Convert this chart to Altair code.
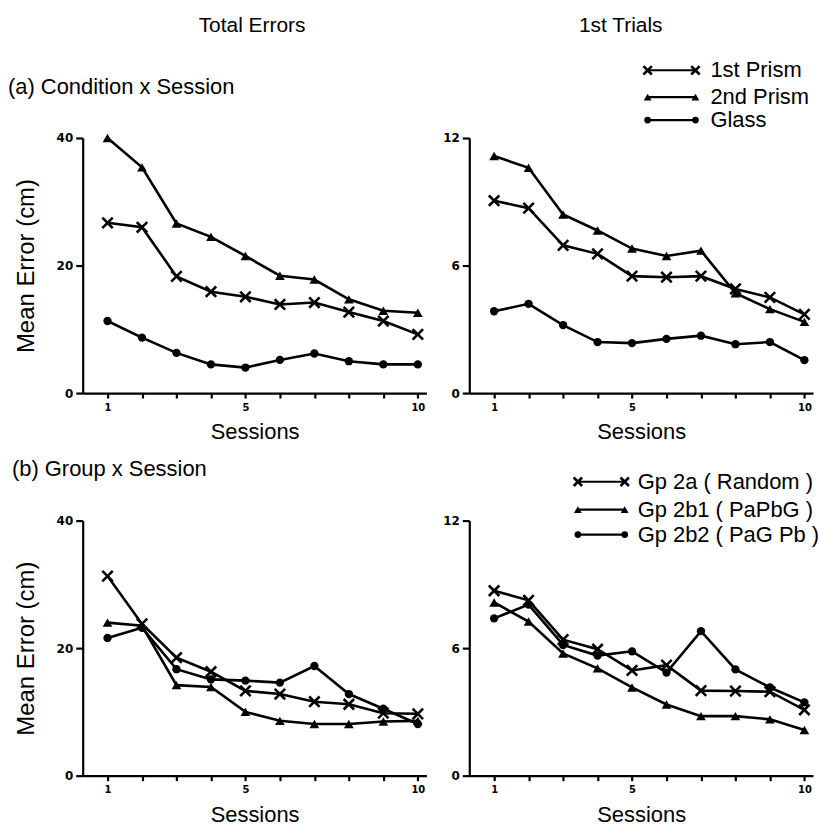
import altair as alt
import pandas as pd

sessions = list(range(1, 11))

# (a) Condition x Session: total errors (cm)
total_first_prism = [26.7, 26.0, 18.3, 15.9, 15.1, 13.9, 14.2, 12.7, 11.3, 9.2]
total_second_prism = [40.0, 35.4, 26.6, 24.5, 21.5, 18.4, 17.8, 14.7, 12.9, 12.6]
total_glass = [11.3, 8.7, 6.3, 4.5, 4.0, 5.2, 6.2, 5.0, 4.5, 4.5]

# (a) Condition x Session: first trials (cm)
first_first_prism = [9.05, 8.7, 6.95, 6.55, 5.5, 5.45, 5.5, 4.9, 4.5, 3.7]
first_second_prism = [11.15, 10.6, 8.4, 7.65, 6.8, 6.45, 6.7, 4.7, 3.95, 3.35]
first_glass = [3.85, 4.2, 3.2, 2.4, 2.35, 2.55, 2.7, 2.3, 2.4, 1.55]

# (b) Group x Session: total errors (cm)
total_gp2a = [31.3, 23.8, 18.5, 16.3, 13.3, 12.8, 11.6, 11.2, 9.8, 9.7]
total_gp2b1 = [24.0, 23.5, 14.2, 13.9, 10.0, 8.6, 8.1, 8.1, 8.5, 8.6]
total_gp2b2 = [21.6, 23.2, 16.7, 15.1, 14.9, 14.6, 17.2, 12.8, 10.5, 8.1]

# (b) Group x Session: first trials (cm)
first_gp2a = [8.7, 8.25, 6.4, 5.95, 4.95, 5.2, 4.0, 3.98, 3.95, 3.1]
first_gp2b1 = [8.15, 7.25, 5.75, 5.05, 4.15, 3.35, 2.8, 2.8, 2.65, 2.15]
first_gp2b2 = [7.4, 8.05, 6.15, 5.65, 5.85, 4.85, 6.8, 5.0, 4.15, 3.45]

condition_names = ["1st Prism", "2nd Prism", "Glass"]
group_names = ["Gp 2a ( Random )", "Gp 2b1 ( PaPbG )", "Gp 2b2 ( PaG Pb )"]
marker_kinds = ["cross", "triangle", "circle"]

column_titles = ["Total Errors", "1st Trials"]
row_titles = ["(a) Condition x Session", "(b) Group x Session"]
y_title = "Mean Error (cm)"
x_title = "Sessions"

W, H = 345, 256
X_PATH = "M-1,-1L1,1M-1,1L1,-1"
BIG_FONT = "Liberation Sans"
TICK_FONT = "DejaVu Sans"


def frame(names, series):
    rows = []
    for name, kind, vals in zip(names, marker_kinds, series):
        for s, v in zip(sessions, vals):
            rows.append({"series": name, "kind": kind, "session": s, "value": v})
    return pd.DataFrame(rows)


def marker_layer(base, kind, size_scale=1.0):
    if kind == "cross":
        return base.mark_point(shape=X_PATH, filled=False, color="black",
                               strokeWidth=2.6, size=110 * size_scale, opacity=1)
    if kind == "triangle":
        return base.mark_point(shape="triangle-up", filled=True, color="black",
                               size=95 * size_scale, opacity=1)
    return base.mark_point(shape="circle", filled=True, color="black",
                           size=70 * size_scale, opacity=1)


def text_layer(label, x, y, align="left", size=22, baseline="alphabetic"):
    return alt.Chart(pd.DataFrame({"t": [label]})).mark_text(
        font=BIG_FONT, fontSize=size, color="black", align=align, baseline=baseline
    ).encode(text="t:N", x=alt.value(x), y=alt.value(y))


def legend_layers(names, x0, x1, ys, tx):
    layers = []
    for name, kind, y in zip(names, marker_kinds, ys):
        d = pd.DataFrame({"t": [name]})
        layers.append(alt.Chart(d).mark_rule(color="black", strokeWidth=2.2).encode(
            x=alt.value(x0), x2=alt.value(x1), y=alt.value(y)))
        for xx in (x0, x1):
            layers.append(marker_layer(alt.Chart(d), kind, 0.65).encode(
                x=alt.value(xx), y=alt.value(y)))
        layers.append(text_layer(name, tx, y, baseline="middle"))
    return layers


def panel(df, ymax, yvals, show_ytitle, extra):
    x_axis = alt.Axis(
        values=sessions, grid=False, title=x_title,
        labelExpr="datum.value == 1 || datum.value == 5 || datum.value == 10 ? datum.label : ''",
        domainColor="black", domainWidth=2.2, tickColor="black", tickWidth=2.2, tickSize=5,
        labelFont=TICK_FONT, labelFontWeight="bold", labelFontSize=10, labelColor="black",
        labelPadding=4, titleFont=BIG_FONT, titleFontSize=22, titleFontWeight="normal",
        titleColor="black", titleY=46, titleBaseline="alphabetic",
    )
    y_kwargs = dict(
        values=yvals, grid=False,
        domainColor="black", domainWidth=2.2, tickColor="black", tickWidth=2.2, tickSize=7,
        labelFont=TICK_FONT, labelFontWeight="bold", labelFontSize=12, labelColor="black",
        labelPadding=3,
    )
    if show_ytitle:
        y_axis = alt.Axis(title=y_title, titleFont=BIG_FONT, titleFontSize=24,
                          titleFontWeight="normal", titleColor="black", titleAngle=270,
                          titleX=-49, titleY=H / 2, titleAlign="center",
                          titleBaseline="alphabetic", **y_kwargs)
    else:
        y_axis = alt.Axis(title=None, **y_kwargs)

    base = alt.Chart(df).encode(
        x=alt.X("session:Q", scale=alt.Scale(domain=[0.28, 10.25], nice=False, zero=False),
                axis=x_axis),
        y=alt.Y("value:Q", scale=alt.Scale(domain=[0, ymax], nice=False), axis=y_axis),
    )
    layers = [base.mark_line(color="black", strokeWidth=2.6).encode(detail="series:N")]
    for kind in marker_kinds:
        layers.append(marker_layer(base.transform_filter(alt.datum.kind == kind), kind))
    layers.extend(extra)
    return alt.layer(*layers).properties(width=W, height=H)


# invisible anchor fixing the page's top-left corner
anchor = alt.Chart(pd.DataFrame({"t": [0]})).mark_rule(
    strokeOpacity=0, strokeWidth=0.01, color="white"
).encode(x=alt.value(-83), x2=alt.value(-80), y=alt.value(-137))

tl = panel(frame(condition_names, [total_first_prism, total_second_prism, total_glass]),
           40, [0, 20, 40], True,
           [anchor,
            text_layer(column_titles[0], 170, -106, align="center", size=21),
            text_layer(row_titles[0], -75, -44)])

tr = panel(frame(condition_names, [first_first_prism, first_second_prism, first_glass]),
           12, [0, 6, 12], False,
           [text_layer(column_titles[1], 152, -106, align="center", size=21)]
           + legend_layers(condition_names, 179, 227, [-68, -41, -18], 242))

bl = panel(frame(group_names, [total_gp2a, total_gp2b1, total_gp2b2]),
           40, [0, 20, 40], True,
           [text_layer(row_titles[1], -71, -45)])

br = panel(frame(group_names, [first_gp2a, first_gp2b1, first_gp2b2]),
           12, [0, 6, 12], False,
           legend_layers(group_names, 109, 156, [-39, -11, 14], 169))

chart = alt.concat(tl, tr, bl, br, columns=2, spacing={"row": 128, "column": 43},
                   bounds="flush").properties(
    padding=0, background="white"
).configure_view(stroke=None)

chart.save("out.html", embed_options={"renderer": "svg", "actions": False})
